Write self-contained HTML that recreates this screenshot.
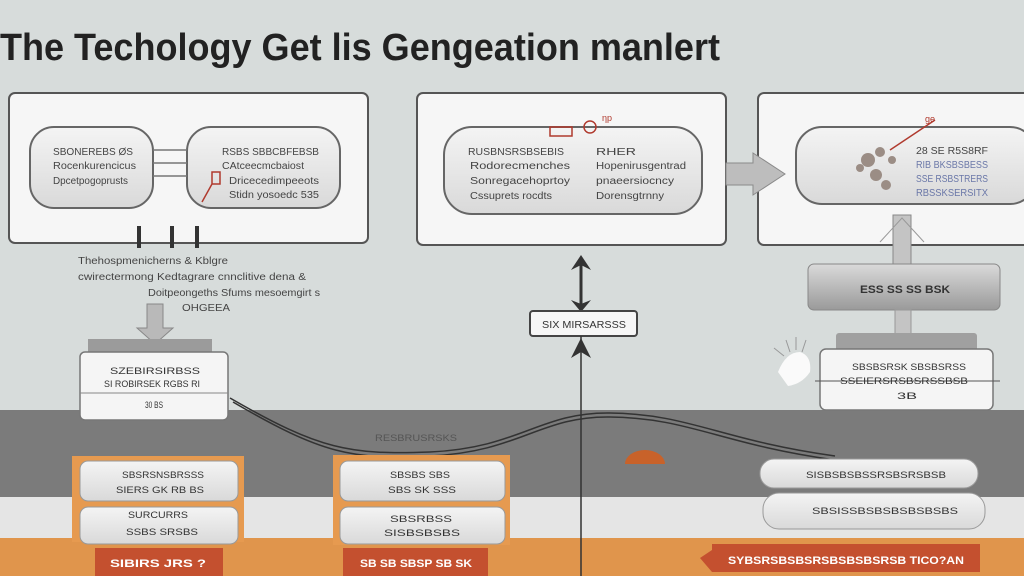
<!DOCTYPE html>
<html><head><meta charset="utf-8"><style>
html,body{margin:0;padding:0;width:1024px;height:576px;overflow:hidden;background:#d7dcdb}
svg{display:block}
text{font-family:"Liberation Sans",sans-serif}
</style></head><body>
<svg width="1024" height="576" viewBox="0 0 1024 576" xmlns="http://www.w3.org/2000/svg">
<defs>
<linearGradient id="pill" x1="0" y1="0" x2="0" y2="1"><stop offset="0" stop-color="#f4f4f4"/><stop offset="1" stop-color="#d9d9d9"/></linearGradient>
<linearGradient id="gbar" x1="0" y1="0" x2="0" y2="1"><stop offset="0" stop-color="#dadada"/><stop offset="1" stop-color="#9a9a9a"/></linearGradient>
</defs>
<rect x="0" y="0" width="1024" height="412" fill="#d7dcdb"/>
<rect x="0" y="410" width="1024" height="88" fill="#7b7b7b"/>
<rect x="0" y="497" width="1024" height="42" fill="#e5e5e5"/>
<rect x="0" y="538" width="1024" height="38" fill="#e0954c"/>

<text x="0" y="60" font-size="38" font-weight="bold" fill="#222" textLength="720" lengthAdjust="spacingAndGlyphs">The Techology Get lis Gengeation manlert</text>

<!-- panel 1 -->
<rect x="9" y="93" width="359" height="150" rx="6" fill="#f6f6f6" stroke="#555" stroke-width="2"/>
<rect x="30" y="127" width="123" height="81" rx="24" fill="url(#pill)" stroke="#666" stroke-width="2"/>
<rect x="187" y="127" width="153" height="81" rx="24" fill="url(#pill)" stroke="#666" stroke-width="2"/>
<g font-size="10" fill="#444">
<text x="53" y="155" textLength="80" lengthAdjust="spacingAndGlyphs">SBONEREBS ØS</text>
<text x="53" y="169" textLength="83" lengthAdjust="spacingAndGlyphs">Rocenkurencicus</text>
<text x="53" y="184" textLength="75" lengthAdjust="spacingAndGlyphs">Dpcetpogoprusts</text>
<text x="222" y="155" textLength="97" lengthAdjust="spacingAndGlyphs">RSBS SBBCBFEBSB</text>
<text x="222" y="169" textLength="82" lengthAdjust="spacingAndGlyphs">CAtceecmcbaiost</text>
<text x="229" y="184" textLength="90" lengthAdjust="spacingAndGlyphs">Dricecedimpeeots</text>
<text x="229" y="198" textLength="90" lengthAdjust="spacingAndGlyphs">Stidn yosoedc 535</text>
</g>
<g stroke="#777" stroke-width="1.5" fill="none">
<path d="M153 150 H187 M153 163 H187 M153 176 H187"/>
</g>
<path d="M212 172 h8 v12 h-8 z M212 184 l-10 18" stroke="#b03a2e" stroke-width="1.5" fill="none"/>
<g fill="#333"><rect x="137" y="226" width="4" height="22"/><rect x="170" y="226" width="4" height="22"/><rect x="195" y="226" width="4" height="22"/></g>
<g font-size="10" fill="#444">
<text x="78" y="264" textLength="150" lengthAdjust="spacingAndGlyphs">Thehospmenicherns &amp; Kblgre</text>
<text x="78" y="280" textLength="228" lengthAdjust="spacingAndGlyphs">cwirectermong Kedtagrare cnnclitive dena &amp;</text>
<text x="148" y="296" textLength="172" lengthAdjust="spacingAndGlyphs">Doitpeongeths Sfums mesoemgirt s</text>
<text x="182" y="311" textLength="48" lengthAdjust="spacingAndGlyphs">OHGEEA</text>
</g>
<path d="M147 304 h16 v24 h10 l-18 16 l-18 -16 h10 z" fill="#b9b9b9" stroke="#888"/>
<rect x="88" y="339" width="124" height="16" fill="#9b9b9b"/>
<rect x="80" y="352" width="148" height="68" rx="5" fill="#f5f5f5" stroke="#777" stroke-width="1.5"/>
<line x1="80" y1="393" x2="228" y2="393" stroke="#888"/>
<g font-size="9" fill="#333">
<text x="110" y="374" textLength="90" lengthAdjust="spacingAndGlyphs">SZEBIRSIRBSS</text>
<text x="104" y="387" textLength="96" lengthAdjust="spacingAndGlyphs">SI ROBIRSEK RGBS RI</text>
<text x="145" y="408" textLength="18" lengthAdjust="spacingAndGlyphs">30 BS</text>
</g>

<!-- panel 2 -->
<rect x="417" y="93" width="309" height="152" rx="6" fill="#f6f6f6" stroke="#555" stroke-width="2"/>
<rect x="444" y="127" width="258" height="87" rx="28" fill="url(#pill)" stroke="#666" stroke-width="2"/>
<g font-size="10" fill="#444">
<text x="468" y="155" textLength="96" lengthAdjust="spacingAndGlyphs">RUSBNSRSBSEBIS</text>
<text x="470" y="169" textLength="100" lengthAdjust="spacingAndGlyphs">Rodorecmenches</text>
<text x="470" y="184" textLength="100" lengthAdjust="spacingAndGlyphs">Sonregacehoprtoy</text>
<text x="470" y="199" textLength="82" lengthAdjust="spacingAndGlyphs">Cssuprets rocdts</text>
<text x="596" y="155" textLength="40" lengthAdjust="spacingAndGlyphs">RHER</text>
<text x="596" y="169" textLength="90" lengthAdjust="spacingAndGlyphs">Hopenirusgentrad</text>
<text x="596" y="184" textLength="78" lengthAdjust="spacingAndGlyphs">pnaeersiocncy</text>
<text x="596" y="199" textLength="68" lengthAdjust="spacingAndGlyphs">Dorensgtrnny</text>
</g>
<rect x="550" y="127" width="22" height="9" fill="none" stroke="#b03a2e" stroke-width="1.5"/>
<circle cx="590" cy="127" r="6" fill="none" stroke="#b03a2e" stroke-width="1.5"/>
<text x="602" y="121" font-size="9" fill="#b03a2e">ηp</text>

<!-- panel 3 -->
<rect x="758" y="93" width="275" height="152" rx="6" fill="#f6f6f6" stroke="#555" stroke-width="2"/>
<rect x="796" y="127" width="240" height="77" rx="26" fill="url(#pill)" stroke="#666" stroke-width="2"/>
<g fill="#9b8d85"><circle cx="868" cy="160" r="7"/><circle cx="880" cy="152" r="5"/><circle cx="876" cy="175" r="6"/><circle cx="886" cy="185" r="5"/><circle cx="860" cy="168" r="4"/><circle cx="892" cy="160" r="4"/></g>
<path d="M890 150 L935 120" stroke="#b03a2e" stroke-width="1.5"/>
<text x="925" y="122" font-size="9" fill="#b03a2e">ge</text>
<g font-size="10">
<text x="916" y="154" fill="#444" textLength="72" lengthAdjust="spacingAndGlyphs">28 SE R5S8RF</text>
<text x="916" y="168" fill="#6a77a8" textLength="72" lengthAdjust="spacingAndGlyphs">RIB BKSBSBESS</text>
<text x="916" y="182" fill="#6a77a8" textLength="72" lengthAdjust="spacingAndGlyphs">SSE RSBSTRERS</text>
<text x="916" y="196" fill="#6a77a8" textLength="72" lengthAdjust="spacingAndGlyphs">RBSSKSERSITX</text>
</g>
<!-- arrow between panels (drawn on top) -->
<path d="M726 163 h27 v-10 l32 21 l-32 21 v-10 h-27 z" fill="#bdbdbd" stroke="#8a8a8a"/>

<!-- right up arrow -->
<rect x="893" y="215" width="18" height="52" fill="#c4c4c4" stroke="#888"/>
<path d="M880 242 l22 -24 l22 24" fill="none" stroke="#999" stroke-width="1"/>
<rect x="808" y="264" width="192" height="46" rx="6" fill="url(#gbar)" stroke="#888"/>
<text x="860" y="293" font-size="11" fill="#333" font-weight="bold" textLength="90" lengthAdjust="spacingAndGlyphs">ESS SS SS BSK</text>
<rect x="895" y="310" width="16" height="36" fill="#c4c4c4" stroke="#999"/>
<rect x="836" y="333" width="141" height="20" rx="3" fill="#a0a0a0"/>
<rect x="820" y="349" width="173" height="61" rx="6" fill="#f5f5f5" stroke="#777" stroke-width="1.5"/>
<line x1="815" y1="381" x2="1000" y2="381" stroke="#555"/>
<g font-size="9" fill="#333">
<text x="852" y="370" textLength="114" lengthAdjust="spacingAndGlyphs">SBSBSRSK SBSBSRSS</text>
<text x="840" y="384" textLength="128" lengthAdjust="spacingAndGlyphs">SSEIERSRSBSRSSBSB</text>
<text x="897" y="399" textLength="20" lengthAdjust="spacingAndGlyphs">3B</text>
</g>
<path d="M778 372 q8 -20 22 -20 q12 4 10 20 q-8 12 -22 14 z" fill="#fafafa"/>
<g stroke="#999" stroke-width="1"><line x1="790" y1="352" x2="786" y2="340"/><line x1="796" y1="350" x2="796" y2="337"/><line x1="802" y1="352" x2="806" y2="340"/><line x1="784" y1="356" x2="774" y2="348"/></g>

<!-- center -->
<line x1="581" y1="262" x2="581" y2="312" stroke="#333" stroke-width="3"/>
<path d="M571 270 l10 -15 l10 15 l-10 -5 z" fill="#333"/>
<path d="M571 300 l10 12 l10 -12 l-10 4 z" fill="#333"/>
<rect x="530" y="311" width="107" height="25" rx="3" fill="#f6f6f6" stroke="#444" stroke-width="2"/>
<text x="542" y="328" font-size="10" fill="#333" textLength="84" lengthAdjust="spacingAndGlyphs">SIX MIRSARSSS</text>
<line x1="581" y1="336" x2="581" y2="576" stroke="#333" stroke-width="1.5"/>
<path d="M571 358 l10 -20 l10 20 l-10 -6 z" fill="#333"/>

<!-- curve -->
<g fill="none" stroke="#333" stroke-width="1.5">
<path d="M230 398 C320 450 350 455 430 452 C520 448 540 412 610 413 C690 414 720 440 835 456"/>
<path d="M233 402 C322 454 352 460 430 456 C520 452 540 416 610 417 C690 418 720 444 835 460"/>
</g>
<text x="375" y="441" font-size="9" fill="#555" textLength="82" lengthAdjust="spacingAndGlyphs">RESBRUSRSKS</text>
<path d="M625 464 a20 14 0 0 1 40 0 z" fill="#c8622a"/>

<!-- bottom left -->
<rect x="72" y="456" width="172" height="86" fill="#e69a50"/>
<rect x="80" y="461" width="158" height="40" rx="8" fill="url(#pill)" stroke="#999"/>
<rect x="80" y="507" width="158" height="37" rx="8" fill="url(#pill)" stroke="#999"/>
<g font-size="9" fill="#333">
<text x="122" y="478" textLength="82" lengthAdjust="spacingAndGlyphs">SBSRSNSBRSSS</text>
<text x="116" y="493" textLength="88" lengthAdjust="spacingAndGlyphs">SIERS GK RB BS</text>
<text x="128" y="518" textLength="60" lengthAdjust="spacingAndGlyphs">SURCURRS</text>
<text x="126" y="535" textLength="72" lengthAdjust="spacingAndGlyphs">SSBS SRSBS</text>
</g>
<rect x="95" y="548" width="128" height="28" fill="#c4502f"/>
<text x="110" y="567" font-size="11" fill="#fff" font-weight="bold" textLength="96" lengthAdjust="spacingAndGlyphs">SIBIRS JRS ?</text>

<!-- bottom center -->
<rect x="333" y="455" width="177" height="90" fill="#e69a50"/>
<rect x="340" y="461" width="165" height="40" rx="8" fill="url(#pill)" stroke="#999"/>
<rect x="340" y="507" width="165" height="37" rx="8" fill="url(#pill)" stroke="#999"/>
<g font-size="9" fill="#333">
<text x="390" y="478" textLength="60" lengthAdjust="spacingAndGlyphs">SBSBS SBS</text>
<text x="388" y="493" textLength="68" lengthAdjust="spacingAndGlyphs">SBS SK SSS</text>
<text x="390" y="522" textLength="62" lengthAdjust="spacingAndGlyphs">SBSRBSS</text>
<text x="384" y="536" textLength="76" lengthAdjust="spacingAndGlyphs">SISBSBSBS</text>
</g>
<rect x="343" y="548" width="145" height="28" fill="#c4502f"/>
<text x="360" y="567" font-size="11" fill="#fff" font-weight="bold" textLength="112" lengthAdjust="spacingAndGlyphs">SB SB SBSP SB SK</text>

<!-- bottom right -->
<rect x="760" y="459" width="218" height="29" rx="14" fill="url(#pill)" stroke="#999"/>
<rect x="763" y="493" width="222" height="36" rx="16" fill="url(#pill)" stroke="#999"/>
<g font-size="9" fill="#333">
<text x="806" y="478" textLength="140" lengthAdjust="spacingAndGlyphs">SISBSBSBSSRSBSRSBSB</text>
<text x="812" y="514" textLength="146" lengthAdjust="spacingAndGlyphs">SBSISSBSBSBSBSBSBS</text>
</g>
<path d="M712 544 H980 V572 H712 L700 558 L712 550 Z" fill="#c4502f"/>
<text x="728" y="564" font-size="11" fill="#fff" font-weight="bold" textLength="236" lengthAdjust="spacingAndGlyphs">SYBSRSBSBSRSBSBSBSRSB  TICO?AN</text>
</svg>
</body></html>
